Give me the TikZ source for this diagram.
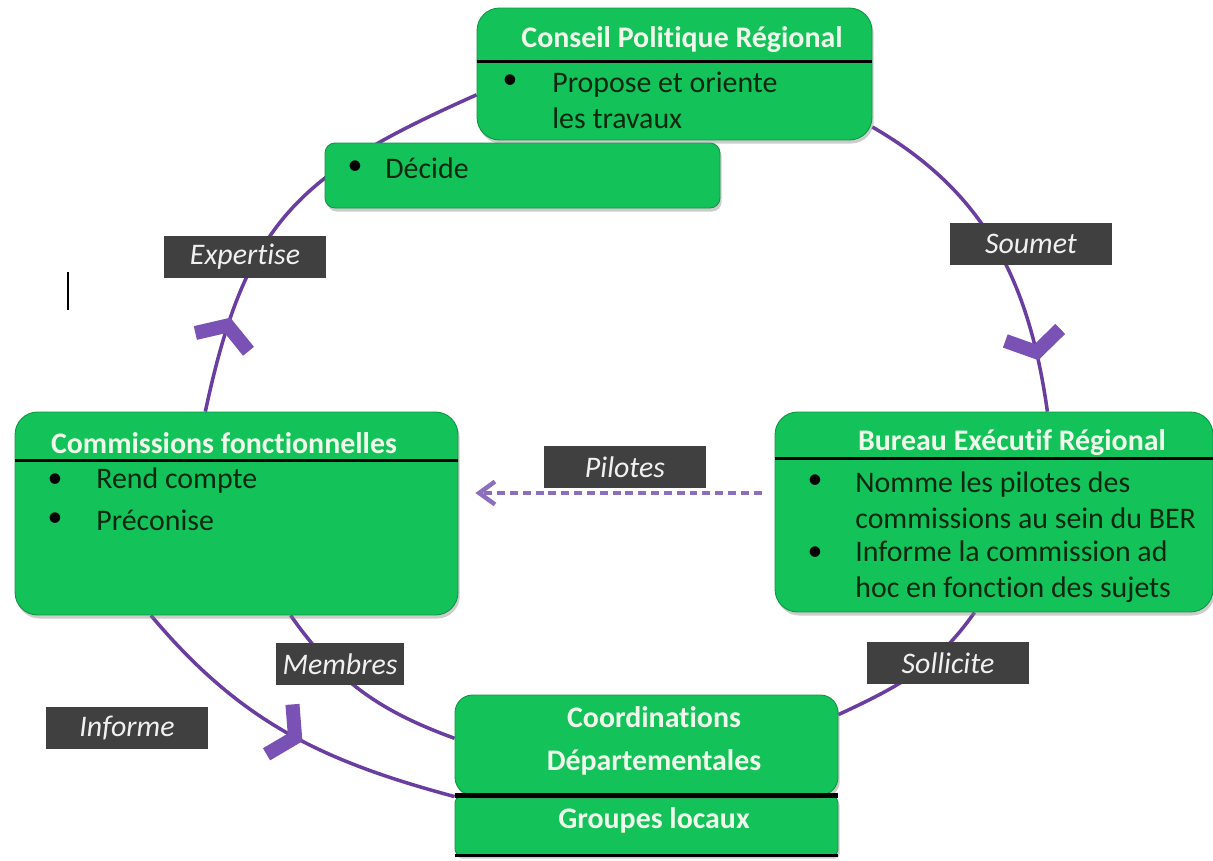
\documentclass[tikz,border=0pt]{standalone}
\usepackage{fontspec}
\setmainfont{Carlito}[Ligatures={NoCommon,NoContextual},Contextuals=NoAlternate]
\usetikzlibrary{arrows.meta,positioning,calc,shadows,backgrounds,decorations.markings}
\definecolor{vert}{RGB}{20,194,90}
\definecolor{vertfonce}{RGB}{12,150,66}
\definecolor{headtxt}{RGB}{240,250,235}
\definecolor{bodytxt}{RGB}{10,40,15}
\definecolor{tagfill}{RGB}{64,64,64}
\definecolor{lienc}{RGB}{106,62,160}
\definecolor{chevc}{RGB}{122,82,182}
\definecolor{pilc}{RGB}{140,110,190}
\tikzset{
    box/.style={rectangle,rounded corners=0.45cm,fill=vert,draw=vertfonce,line width=0.5pt,
        drop shadow={shadow xshift=1pt,shadow yshift=-2pt,opacity=0.4}},
    head/.style={text=headtxt,font=\bfseries\fontsize{17}{20}\selectfont,inner sep=0pt},
    body/.style={text=bodytxt,font=\fontsize{17}{20.4}\selectfont,align=left,inner sep=0pt,anchor=west},
    puce/.style={text=black,font=\fontsize{17}{20}\selectfont,inner sep=0pt},
    tag/.style={fill=tagfill,text=white!94!black,font=\itshape\fontsize{17}{20}\selectfont,
        minimum width=3.25cm,minimum height=0.84cm,inner sep=0pt},
    link/.style={lienc,line width=2pt},
    chevron pos/.style={postaction={decorate},decoration={markings,
        mark=at position #1 with {\arrow{Straight Barb[length=10pt,width=32pt,line width=8pt,sharp,color=chevc]}}}}
}
\begin{document}
\begin{tikzpicture}[x=0.02cm,y=-0.02cm]
\useasboundingbox (0,0) rectangle (1213,860);
% boites
\node[box,rounded corners=0.2cm,minimum width=7.9cm,minimum height=1.3cm] (dec) at (522.5,175.5) {};
\node[box,minimum width=7.9cm,minimum height=2.64cm] (cpr) at (674.5,74) {};
\node[box,minimum width=8.76cm,minimum height=4cm] (ber) at (994,512) {};
\node[box,minimum width=8.86cm,minimum height=4.06cm] (cf) at (236.5,513.5) {};
\node[box,rounded corners=0.1cm,minimum width=7.66cm,minimum height=1.16cm] (gl) at (646.5,826) {};
\node[box,rounded corners=0.35cm,minimum width=7.66cm,minimum height=2cm] (cd) at (646.5,745) {};
% traits noirs
\draw[line width=1.7pt] (cpr.west |- 0,61) -- (cpr.east |- 0,61);
\draw[line width=1.7pt] (ber.west |- 0,458) -- (ber.east |- 0,458);
\draw[line width=1.7pt] (cf.west |- 0,460) -- (cf.east |- 0,460);
\draw[line width=2.4pt] (cd.south west) -- (cd.south east);
\draw[line width=2pt] (gl.south west) -- (gl.south east);
% textes
\node[head] at (682,40) {Conseil Politique Régional};
\node[puce] at (510,82) {\textbullet};
\node[body] at (552,100) {Propose et oriente\\les travaux};
\node[puce] at (355,168) {\textbullet};
\node[body] at (385,168) {Décide};
\node[head] at (1012,443) {Bureau Exécutif Régional};
\node[puce] at (815,482) {\textbullet};
\node[body] at (855,500) {Nomme les pilotes des\\commissions au sein du BER};
\node[puce] at (815,554) {\textbullet};
\node[body] at (855,572) {Informe la commission ad\\hoc en fonction des sujets};
\node[head] at (224,443) {Commissions fonctionnelles};
\node[puce] at (55,481) {\textbullet};
\node[body] at (96,481) {Rend compte};
\node[puce] at (55,520) {\textbullet};
\node[body] at (96,520) {Préconise};
\node[head,align=center,font=\bfseries\fontsize{17}{24.4}\selectfont] at (654,741) {Coordinations\\Départementales};
\node[head] at (654,820) {Groupes locaux};
% liens
\begin{scope}[on background layer]
\draw[link,chevron pos=0.22] (cf.107) to[out=78,in=204,looseness=1.2] (cpr.186);
\draw[link,chevron pos=0.85] (cpr.-15) to[out=-30,in=98] (ber.62);
\draw[link] (ber.259) to[out=235,in=25] (cd.9);
\draw[link] (cf.-62) to[out=-55,in=160] (cd.178);
\draw[link,chevron pos=0.55] (cf.230) to[out=-50,in=165] (gl.north west);
\draw[pilc,line width=2.2pt,dash pattern=on 4.5pt off 2.8pt,
    -{Straight Barb[length=9pt,width=13pt,line width=2.5pt]}]
    ([shift={(-13,-19)}]ber.west) -- ([shift={(17,-20.5)}]cf.east);
\end{scope}
% etiquettes
\node[tag] (t1) at (245,257) {Expertise};
\node[tag] (t2) at (1031,244) {Soumet};
\node[tag] (t3) at (625,467) {Pilotes};
\node[tag,minimum width=2.58cm] (t4) at (340,664) {Membres};
\node[tag] (t5) at (948,663) {Sollicite};
\node[tag] (t6) at (127,728) {Informe};
\draw[line width=1.6pt] (68,272) -- (68,310);
\end{tikzpicture}
\end{document}
